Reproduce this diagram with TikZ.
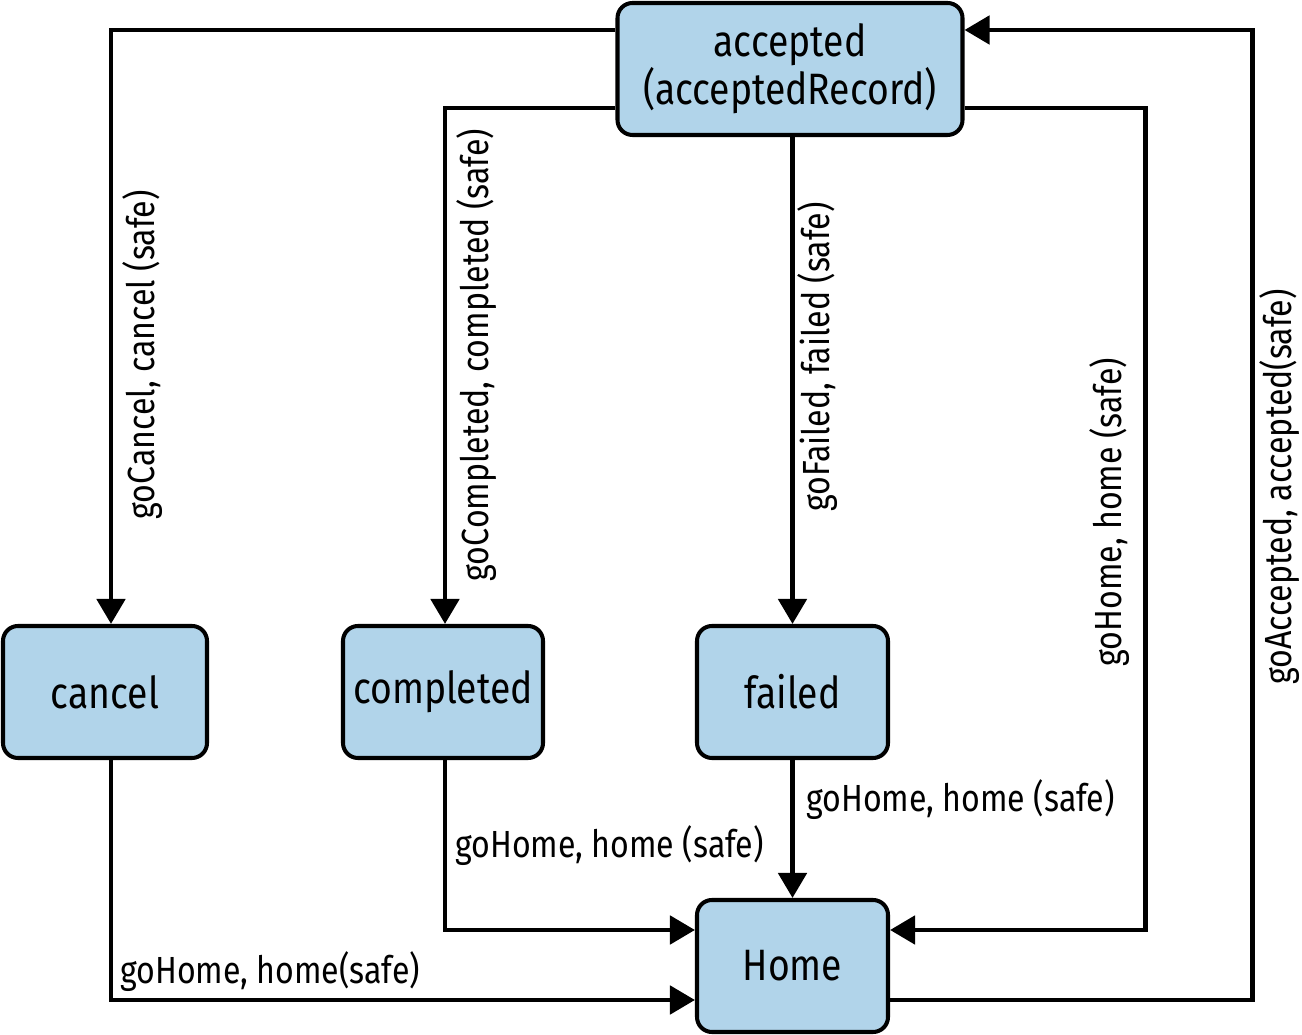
\documentclass[tikz,border=0pt]{standalone}
\usepackage{fontspec}
\setmainfont{Fira Sans}[FakeStretch=0.85]
\usetikzlibrary{arrows.meta}
\definecolor{stateblue}{RGB}{177,212,234}

\tikzset{
  state/.style={draw=black, fill=stateblue, line width=2.3pt, rounded corners=0.3cm,
    minimum height=2.64cm, inner sep=0pt, font=\fontsize{25}{24.5}\selectfont},
  flow/.style={line width=2.8pt, -{Triangle[length=0.5cm,width=0.56cm]}},
  lbl/.style={font=\fontsize{21.5}{23}\selectfont, inner sep=0pt},
}

\begin{document}
\begin{tikzpicture}
  \useasboundingbox (0,0) rectangle (26.04,20.7);

  % States
  \node[state, minimum width=6.9cm, align=center] (acc) at (15.8,19.32) {accepted\\(acceptedRecord)};
  \node[state, minimum width=4.08cm] (cancel) at (2.1,6.86) {cancel};
  \node[state, minimum width=4.0cm] (completed) at (8.86,6.86) {completed};
  \node[state, minimum width=3.82cm] (failed) at (15.85,6.86) {failed};
  \node[state, minimum width=3.82cm] (home) at (15.85,1.38) {Home};

  % From accepted
  \draw[flow] ([yshift=0.78cm]acc.west) -| ([xshift=0.12cm]cancel.north);
  \draw[flow] ([yshift=-0.78cm]acc.west) -| ([xshift=0.04cm]completed.north);
  \draw[flow] (acc.south -| failed.north) -- (failed.north);
  \draw[flow] ([yshift=-0.78cm]acc.east) -- ++(3.62,0) |- ([yshift=0.72cm]home.east);

  % Back to accepted
  \draw[flow] ([yshift=-0.68cm]home.east) -- ++(7.24,0) |- ([yshift=0.78cm]acc.east);

  % To Home
  \draw[flow] ([xshift=0.12cm]cancel.south) |- ([yshift=-0.68cm]home.west);
  \draw[flow] ([xshift=0.04cm]completed.south) |- ([yshift=0.72cm]home.west);
  \draw[flow] (failed.south) -- (home.north);

  % Labels
  \node[lbl, rotate=90] (l-cancel) at (2.86,13.6) {goCancel, cancel (safe)};
  \node[lbl, rotate=90] (l-completed) at (9.54,13.6) {goCompleted, completed (safe)};
  \node[lbl, rotate=90] (l-failed) at (16.36,13.56) {goFailed, failed (safe)};
  \node[lbl, rotate=90] (l-home) at (22.2,10.46) {goHome, home (safe)};
  \node[lbl, rotate=90] (l-accepted) at (25.6,10.96) {goAccepted, accepted(safe)};
  \node[lbl, anchor=west] (l-cancelhome) at (2.4,1.26) {goHome, home(safe)};
  \node[lbl, anchor=west] (l-completedhome) at (9.1,3.78) {goHome, home (safe)};
  \node[lbl, anchor=west] (l-failedhome) at (16.12,4.7) {goHome, home (safe)};

\end{tikzpicture}
\end{document}
